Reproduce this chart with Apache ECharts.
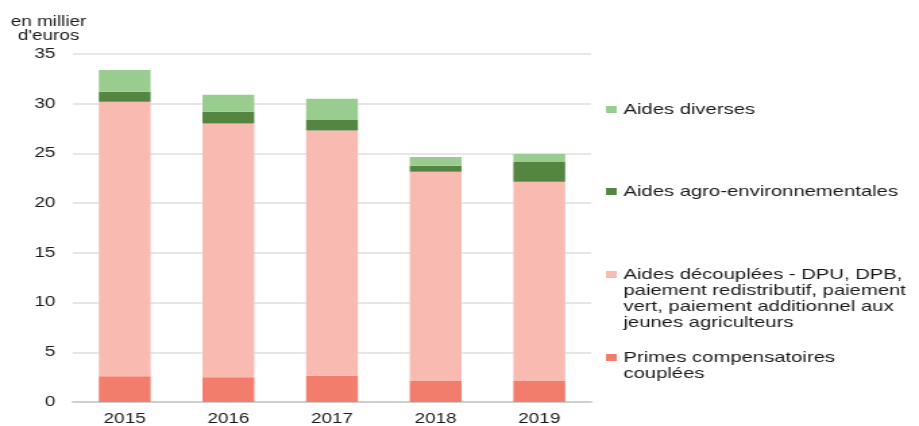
<!DOCTYPE html>
<html lang="fr">

<head>
    <meta charset="UTF-8">
    <title>Aides PAC</title>
    <script src="https://cdn.jsdelivr.net/npm/echarts@6/dist/echarts.min.js"></script>
    <style>
        body { margin: 0; background: #fff; }
        /* la figure d'origine est étirée horizontalement */
        #chart { width: 681px; height: 426px; transform: scaleX(1.3495); transform-origin: 0 0; }
    </style>
</head>

<body>
    <div id="chart"></div>
    <script>
        // données (en millier d'euros)
        var annees = ['2015', '2016', '2017', '2018', '2019'];
        var primes = [2.6, 2.5, 2.65, 2.15, 2.15];
        var decouplees = [27.6, 25.5, 24.65, 21.0, 20.0];
        var agroEnv = [1.0, 1.2, 1.1, 0.6, 2.0];
        var diverses = [2.2, 1.7, 2.1, 0.9, 0.8];
        var yTicks = [0, 5, 10, 15, 20, 25, 30, 35];

        var noms = ['Primes compensatoires couplées',
            'Aides découplées - DPU, DPB, paiement redistributif, paiement vert, paiement additionnel aux jeunes agriculteurs',
            'Aides agro-environnementales', 'Aides diverses'];
        var libelles = ['Primes compensatoires\ncouplées',
            'Aides découplées - DPU, DPB,\npaiement redistributif, paiement\nvert, paiement additionnel aux\njeunes agriculteurs',
            'Aides agro-environnementales', 'Aides diverses'];
        var couleurs = ['#f27d6c', '#f9bbb1', '#548642', '#99cd8f'];
        var valeurs = [primes, decouplees, agroEnv, diverses];
        var legendeY = [357.5, 274.5, 191.5, 109.5];

        var font = '"Liberation Sans", Arial, sans-serif';
        var lh = 16;

        var myChart = echarts.init(document.getElementById('chart'));

        var series = [];
        var legends = [];
        for (var i = 0; i < noms.length; i++) {
            series.push({
                name: noms[i],
                type: 'bar',
                stack: 'total',
                barWidth: '50%',
                itemStyle: { color: couleurs[i] },
                data: valeurs[i]
            });
            var n = libelles[i].split('\n').length;
            // lignes vides devant pour que l'icône reste en face de la première ligne
            var txt = new Array(n).join('\n') + libelles[i];
            legends.push({
                data: [noms[i]],
                left: 449,
                top: legendeY[i] - (2 * n - 1) * lh / 2,
                padding: 0,
                itemWidth: 8,
                itemHeight: 7,
                icon: 'rect',
                selectedMode: false,
                formatter: (function (t) { return function () { return t; }; })(txt),
                textStyle: { fontFamily: font, fontSize: 15, color: '#1a1a1a', lineHeight: lh }
            });
        }

        var option = {
            animation: false,
            title: {
                text: "en millier\nd'euros",
                left: 36,
                top: 15,
                padding: 0,
                textAlign: 'center',
                textStyle: { fontFamily: font, fontSize: 14, fontWeight: 'normal', color: '#1a1a1a', lineHeight: 14 }
            },
            legend: legends,
            grid: { left: 54, right: 243, top: 54, bottom: 20 },
            xAxis: {
                type: 'category',
                data: annees,
                axisTick: { show: false },
                axisLine: { lineStyle: { color: '#cfcfcf', width: 2 } },
                axisLabel: { fontFamily: font, fontSize: 14, color: '#1a1a1a', margin: 10 }
            },
            yAxis: {
                type: 'value',
                min: yTicks[0],
                max: yTicks[yTicks.length - 1],
                interval: yTicks[1] - yTicks[0],
                axisLine: { show: false },
                axisTick: { show: false },
                axisLabel: { fontFamily: font, fontSize: 14, color: '#1a1a1a', margin: 13 },
                splitLine: { lineStyle: { color: '#dedede', width: 1.5 } }
            },
            series: series
        };
        myChart.setOption(option);
    </script>
</body>

</html>
